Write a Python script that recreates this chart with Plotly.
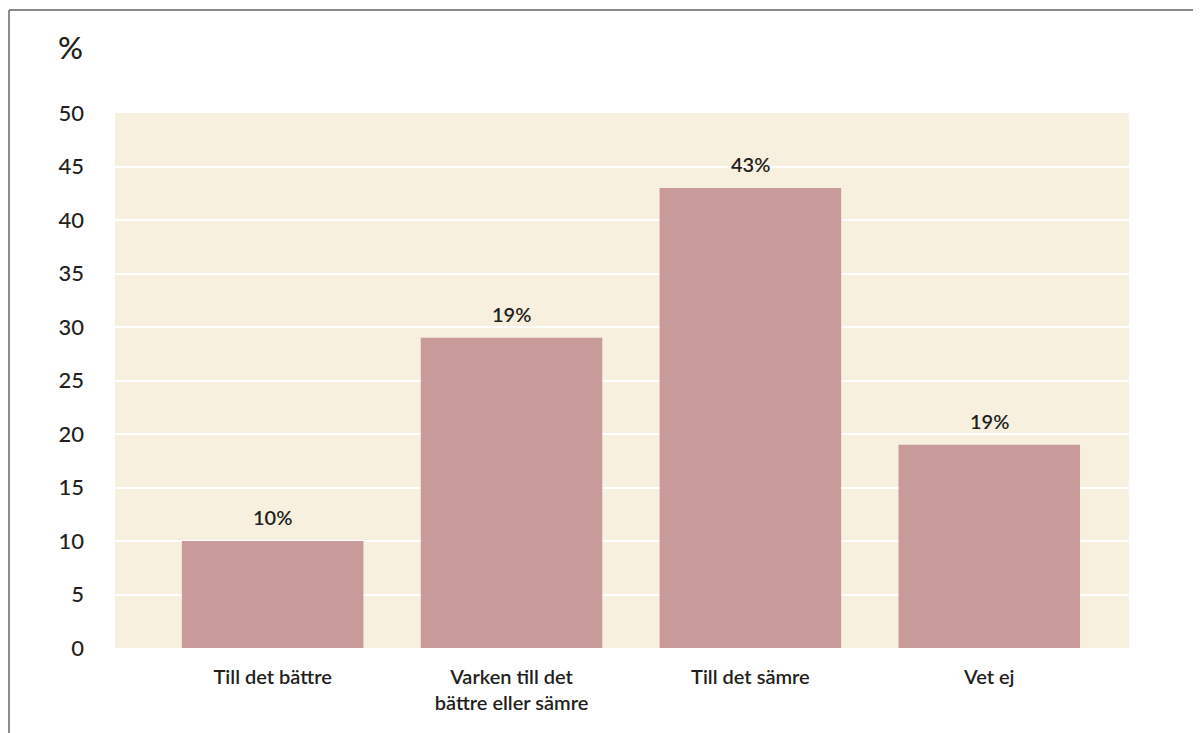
import plotly.graph_objects as go

categories = ["Till det bättre", "Varken till det<br>bättre eller sämre", "Till det sämre", "Vet ej"]
values = [10, 29, 43, 19]
value_labels = ["10%", "19%", "43%", "19%"]
y_ticks = [0, 5, 10, 15, 20, 25, 30, 35, 40, 45, 50]

FONT = "Lato"
TXT = "#231f20"

fig = go.Figure(go.Bar(
    x=categories, y=values, width=0.76,
    marker=dict(color="#c89a9a", line=dict(width=0)),
    hoverinfo="skip",
))

for c, v, t in zip(categories, values, value_labels):
    fig.add_annotation(x=c, y=v, text=t, showarrow=False, yanchor="middle",
                       yshift=24, font=dict(family=FONT, size=20, color=TXT, weight=600))

fig.add_annotation(xref="paper", yref="paper", x=-0.0434, y=1.123, text="%",
                   xanchor="center", yanchor="middle",
                   showarrow=False, font=dict(family=FONT, size=31, color=TXT, weight=500))

# frame lines (top and left) of the figure box
fig.add_shape(type="line", xref="paper", yref="paper", x0=-0.1045, x1=1.2, y0=1.1925, y1=1.1925,
              line=dict(color="#8a8a8a", width=2))
fig.add_shape(type="line", xref="paper", yref="paper", x0=-0.1045, x1=-0.1045, y0=-0.3, y1=1.1925,
              line=dict(color="#8a8a8a", width=2))

fig.update_layout(
    width=1201, height=733,
    margin=dict(l=107, r=80, t=105, b=93),
    paper_bgcolor="white", plot_bgcolor="#f7f0df",
    showlegend=False,
    font=dict(family=FONT, color=TXT),
    xaxis=dict(type="category", range=[-0.66, 3.585], showgrid=False, zeroline=False,
               showline=False, ticks="", tickfont=dict(size=20, color=TXT, weight=600),
               ticklabelstandoff=15),
    yaxis=dict(range=[0, 50], tickvals=y_ticks, showgrid=True, gridcolor="white", gridwidth=2,
               zeroline=False, showline=False, ticks="", tickfont=dict(size=22, color=TXT, weight=500),
               ticklabelstandoff=30),
)

fig.write_html("out.html")
